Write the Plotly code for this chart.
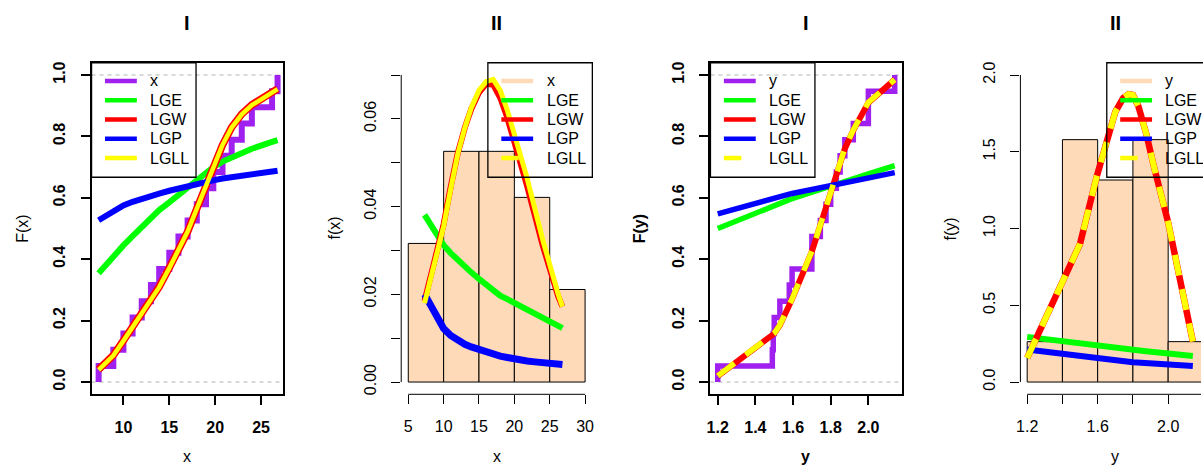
import plotly.graph_objects as go

W, H = 1203, 468
FONT = "Liberation Sans, Arial, Helvetica, sans-serif"
FS = 16

# ---------------- data: sample x ----------------
x_obs = [7.3, 8.9, 10.0, 11.0, 12.0, 13.0, 13.9, 15.0, 16.0, 17.0, 18.0, 19.0,
         19.8, 20.8, 21.8, 22.9, 24.0, 26.2, 26.8]
x_cdf_lge = [0.354, 0.41, 0.445, 0.475, 0.505, 0.535, 0.56, 0.585, 0.61, 0.635, 0.66,
             0.685, 0.70, 0.718, 0.732, 0.747, 0.76, 0.782, 0.788]
x_cdf_lgw = [0.041, 0.087, 0.135, 0.18, 0.222, 0.266, 0.31, 0.372, 0.43, 0.49, 0.565,
             0.64, 0.70, 0.772, 0.83, 0.873, 0.903, 0.945, 0.955]
x_cdf_lgp = [0.527, 0.557, 0.575, 0.587, 0.598, 0.607, 0.614, 0.623, 0.631, 0.638, 0.645,
             0.652, 0.657, 0.663, 0.668, 0.673, 0.678, 0.686, 0.688]
x_cdf_lgll = [0.040, 0.086, 0.134, 0.179, 0.221, 0.265, 0.309, 0.371, 0.43, 0.49, 0.565,
              0.64, 0.70, 0.772, 0.829, 0.872, 0.902, 0.944, 0.954]
x_pdf_lge = [0.0381, 0.0340, 0.0312, 0.0294, 0.0278, 0.0263, 0.0250, 0.0235, 0.0221, 0.0208,
             0.0197, 0.0189, 0.0182, 0.0173, 0.0164, 0.0153, 0.0144, 0.0128, 0.0123]
x_pdf_lgw = [0.0185, 0.0285, 0.0360, 0.0445, 0.0522, 0.0580, 0.0622, 0.0660, 0.0680, 0.0678,
             0.0648, 0.0603, 0.0560, 0.0507, 0.0447, 0.0380, 0.0312, 0.0195, 0.0172]
x_pdf_lgp = [0.0200, 0.0150, 0.0122, 0.0106, 0.0095, 0.0086, 0.0080, 0.0074, 0.0068, 0.0063,
             0.0059, 0.0056, 0.0053, 0.0050, 0.0048, 0.0046, 0.0044, 0.0041, 0.0040]
x_pdf_lgll = [0.0180, 0.0280, 0.0355, 0.0440, 0.0520, 0.0580, 0.0625, 0.0665, 0.0685, 0.0690,
              0.0665, 0.0620, 0.0578, 0.0525, 0.0465, 0.0395, 0.0325, 0.0200, 0.0172]
x_bin_edges = [5, 10, 15, 20, 25, 30]
x_density = [0.0316, 0.0526, 0.0526, 0.0421, 0.0211]

# ---------------- data: sample y ----------------
y_obs = [1.20, 1.49, 1.495, 1.50, 1.53, 1.58, 1.595, 1.70, 1.70, 1.745, 1.775, 1.80,
         1.83, 1.85, 1.875, 1.92, 2.00, 2.00, 2.14]
y_cdf_lge = [0.500, 0.575, 0.576, 0.577, 0.583, 0.594, 0.597, 0.619, 0.619, 0.629, 0.635,
             0.640, 0.646, 0.650, 0.654, 0.663, 0.678, 0.678, 0.705]
y_cdf_lgw = [0.019, 0.152, 0.155, 0.158, 0.185, 0.245, 0.27, 0.425, 0.425, 0.51, 0.565,
             0.615, 0.677, 0.715, 0.76, 0.82, 0.91, 0.91, 0.985]
y_cdf_lgp = [0.548, 0.600, 0.601, 0.602, 0.606, 0.612, 0.614, 0.627, 0.627, 0.633, 0.637,
             0.640, 0.644, 0.646, 0.649, 0.655, 0.664, 0.664, 0.682]
y_cdf_lgll = [0.020, 0.153, 0.156, 0.159, 0.186, 0.246, 0.271, 0.426, 0.426, 0.511, 0.566,
              0.616, 0.678, 0.716, 0.761, 0.821, 0.911, 0.911, 0.985]
y_pdf_lge = [0.294, 0.250, 0.249, 0.248, 0.244, 0.238, 0.236, 0.222, 0.222, 0.217, 0.213,
             0.210, 0.206, 0.204, 0.201, 0.196, 0.187, 0.187, 0.169]
y_pdf_lgw = [0.157, 0.87, 0.885, 0.90, 1.04, 1.27, 1.34, 1.76, 1.76, 1.85, 1.875,
             1.87, 1.80, 1.72, 1.62, 1.40, 1.04, 1.04, 0.264]
y_pdf_lgp = [0.212, 0.167, 0.166, 0.165, 0.161, 0.154, 0.152, 0.140, 0.140, 0.135, 0.132,
             0.129, 0.126, 0.124, 0.122, 0.118, 0.112, 0.112, 0.104]
y_pdf_lgll = [0.157, 0.87, 0.885, 0.90, 1.04, 1.27, 1.34, 1.76, 1.76, 1.85, 1.875,
              1.87, 1.80, 1.72, 1.62, 1.40, 1.04, 1.04, 0.264]
y_bin_edges = [1.2, 1.4, 1.6, 1.8, 2.0, 2.2]
y_density = [0.263, 1.579, 1.316, 1.579, 0.263]

# tick labels
p1_xticks = [10, 15, 20, 25]
cdf_yticks = [0, 0.2, 0.4, 0.6, 0.8, 1.0]
cdf_ytext = ["0.0", "0.2", "0.4", "0.6", "0.8", "1.0"]
p2_xticks = [5, 10, 15, 20, 25, 30]
p2_yticks = [0, 0.01, 0.02, 0.03, 0.04, 0.05, 0.06, 0.07]
p2_ytext = ["0.00", "", "0.02", "", "0.04", "", "0.06", ""]
p3_xticks = [1.2, 1.4, 1.6, 1.8, 2.0]
p3_xtext = ["1.2", "1.4", "1.6", "1.8", "2.0"]
p4_xticks = [1.2, 1.4, 1.6, 1.8, 2.0, 2.2]
p4_xtext = ["1.2", "", "1.6", "", "2.0", ""]
p4_yticks = [0, 0.5, 1.0, 1.5, 2.0]
p4_ytext = ["0.0", "0.5", "1.0", "1.5", "2.0"]

PURPLE, GREEN, RED, BLUE, YELLOW = "#A020F0", "#00FF00", "#FF0000", "#0000FF", "#FFFF00"
PEACH = "#FFDAB9"
DASH = "21px,14px"

fig = go.Figure()


def ecdf_xy(vals):
    n = len(vals)
    xs = [vals[0]] + list(vals)
    ys = [0.0] + [(i + 1) / n for i in range(n)]
    return xs, ys


def curve(xv, yv, color, width, ax, dash=None):
    fig.add_trace(go.Scatter(x=xv, y=yv, mode="lines",
                             line=dict(color=color, width=width, dash=dash),
                             xaxis=ax[0], yaxis=ax[1], hoverinfo="skip"))


def bars(edges, dens, ax):
    centers = [(a + b) / 2 for a, b in zip(edges[:-1], edges[1:])]
    widths = [b - a for a, b in zip(edges[:-1], edges[1:])]
    fig.add_trace(go.Bar(x=centers, y=dens, width=widths,
                         marker=dict(color=PEACH, line=dict(color="black", width=1)),
                         xaxis=ax[0], yaxis=ax[1], hoverinfo="skip"))


# panel 1
ex, ey = ecdf_xy(x_obs)
fig.add_trace(go.Scatter(x=ex, y=ey, mode="lines", line=dict(color=PURPLE, width=6, shape="hv"),
                         xaxis="x", yaxis="y", hoverinfo="skip"))
curve(x_obs, x_cdf_lge, GREEN, 6, ("x", "y"))
curve(x_obs, x_cdf_lgw, RED, 7.5, ("x", "y"))
curve(x_obs, x_cdf_lgp, BLUE, 6, ("x", "y"))
curve(x_obs, x_cdf_lgll, YELLOW, 4.5, ("x", "y"))

# panel 2
bars(x_bin_edges, x_density, ("x2", "y2"))
curve(x_obs, x_pdf_lge, GREEN, 6, ("x2", "y2"))
curve(x_obs, x_pdf_lgw, RED, 6, ("x2", "y2"))
curve(x_obs, x_pdf_lgp, BLUE, 7, ("x2", "y2"))
curve(x_obs, x_pdf_lgll, YELLOW, 5, ("x2", "y2"))

# panel 3
ex, ey = ecdf_xy(y_obs)
fig.add_trace(go.Scatter(x=ex, y=ey, mode="lines", line=dict(color=PURPLE, width=5.5, shape="hv"),
                         xaxis="x3", yaxis="y3", hoverinfo="skip"))
curve(y_obs, y_cdf_lge, GREEN, 5.5, ("x3", "y3"))
curve(y_obs, y_cdf_lgw, RED, 6, ("x3", "y3"))
curve(y_obs, y_cdf_lgp, BLUE, 5.5, ("x3", "y3"))
curve(y_obs, y_cdf_lgll, YELLOW, 5.5, ("x3", "y3"), dash=DASH)

# panel 4
bars(y_bin_edges, y_density, ("x4", "y4"))
curve(y_obs, y_pdf_lge, GREEN, 6, ("x4", "y4"))
curve(y_obs, y_pdf_lgw, RED, 6.5, ("x4", "y4"))
curve(y_obs, y_pdf_lgp, BLUE, 6, ("x4", "y4"))
curve(y_obs, y_pdf_lgll, YELLOW, 6, ("x4", "y4"), dash=DASH)

YDOM = [73 / H, 406 / H]


def tfont(bold):
    d = dict(family=FONT, size=FS, color="black")
    if bold:
        d["weight"] = "bold"
    return d


def xax(x0, x1, rng, anchor, tv, tt, bold, box):
    return dict(domain=[x0 / W, x1 / W], range=rng, anchor=anchor, tickmode="array",
                tickvals=tv, ticktext=tt, ticks="outside", ticklen=9,
                tickwidth=2 if box else 1, tickcolor="black",
                showline=box, mirror=box, linewidth=2, linecolor="black",
                showgrid=False, zeroline=False, tickfont=tfont(bold),
                ticklabelstandoff=8)


def yax(rng, anchor, tv, tt, bold, box):
    return dict(domain=YDOM, range=rng, anchor=anchor, tickmode="array",
                tickvals=tv, ticktext=tt, ticks="outside", ticklen=9,
                tickwidth=2 if box else 1, tickcolor="black", tickangle=-90,
                showline=box, mirror=box, linewidth=2, linecolor="black",
                showgrid=False, zeroline=False, tickfont=tfont(bold),
                ticklabelstandoff=9)


fig.update_layout(
    width=W, height=H, margin=dict(l=0, r=0, t=0, b=0),
    paper_bgcolor="white", plot_bgcolor="white", showlegend=False,
    xaxis=xax(88, 280, [6.53, 27.35], "y", p1_xticks, [str(v) for v in p1_xticks], True, True),
    yaxis=yax([-0.04, 1.04], "x", cdf_yticks, cdf_ytext, True, True),
    xaxis2=xax(399.2, 591.1, [4, 31], "y2", p2_xticks, [str(v) for v in p2_xticks], False, False),
    yaxis2=yax([-0.0028, 0.0728], "x2", p2_yticks, p2_ytext, False, False),
    xaxis3=xax(710, 902, [1.1614, 2.176], "y3", p3_xticks, p3_xtext, True, True),
    yaxis3=yax([-0.04, 1.04], "x3", cdf_yticks, cdf_ytext, True, True),
    xaxis4=xax(1021.5, W, [1.1616, 2.1863], "y4", p4_xticks, p4_xtext, False, False),
    yaxis4=yax([-0.08, 2.08], "x4", p4_yticks, p4_ytext, False, False),
)

# gray dashed reference lines (ecdf panels)
for xa, ya in (("x", "y"), ("x3", "y3")):
    for lvl in (0, 1):
        fig.add_shape(type="line", xref=xa + " domain", yref=ya, x0=0, x1=1, y0=lvl, y1=lvl,
                      line=dict(color="#B3B3B3", width=1, dash="4px,4px"), layer="below")

# R-style detached axis lines for the histogram panels
for xa, ya, xe, ytop in (("x2", "y2", x_bin_edges, 0.07), ("x4", "y4", y_bin_edges, 2.0)):
    fig.add_shape(type="line", xref=xa, yref=ya + " domain", x0=xe[0], x1=xe[-1], y0=0, y1=0,
                  line=dict(color="black", width=1))
    fig.add_shape(type="line", xref=xa + " domain", yref=ya, x0=0, x1=0, y0=0, y1=ytop,
                  line=dict(color="black", width=1))


def legend(left, labels, colors, dashed_last):
    top, bottom, width = 62, 177, 105
    fig.add_shape(type="rect", xref="paper", yref="paper", x0=left / W, x1=(left + width) / W,
                  y0=1 - bottom / H, y1=1 - top / H, line=dict(color="black", width=1.3),
                  fillcolor="rgba(0,0,0,0)", layer="above")
    rows = [80.3, 99.7, 119.0, 138.3, 157.7]
    for i, (lab, col) in enumerate(zip(labels, colors)):
        py = rows[i]
        xe = left + (31 if (dashed_last and i == 4) else 45.5)
        fig.add_shape(type="line", xref="paper", yref="paper", x0=(left + 13.5) / W, x1=xe / W,
                      y0=1 - py / H, y1=1 - py / H, line=dict(color=col, width=4.5), layer="above")
        fig.add_annotation(xref="paper", yref="paper", x=(left + 57) / W, y=1 - py / H, text=lab,
                           showarrow=False, xanchor="left", yanchor="middle",
                           font=dict(family=FONT, size=FS, color="black"))


legend(88, ["x", "LGE", "LGW", "LGP", "LGLL"], [PURPLE, GREEN, RED, BLUE, YELLOW], False)
legend(486.3, ["x", "LGE", "LGW", "LGP", "LGLL"], [PEACH, GREEN, RED, BLUE, YELLOW], True)
legend(710, ["y", "LGE", "LGW", "LGP", "LGLL"], [PURPLE, GREEN, RED, BLUE, YELLOW], True)
legend(1108.3, ["y", "LGE", "LGW", "LGP", "LGLL"], [PEACH, GREEN, RED, BLUE, YELLOW], True)

# titles and axis titles
panels = [  # (centre x of plot, y-title x, title, xlab, ylab, bold labels)
    (184, 18.3, "I", "x", "F(x)", False),
    (495, 331.7, "II", "x", "f(x)", False),
    (806, 639, "I", "y", "F(y)", True),
    (1117, 951.7, "II", "y", "f(y)", False),
]
for cx, yx, title, xl, yl, bold in panels:
    fig.add_annotation(xref="paper", yref="paper", x=cx / W, y=1 - 22 / H, text="<b>%s</b>" % title,
                       showarrow=False, xanchor="center", yanchor="middle",
                       font=dict(family=FONT, size=20, color="black"))
    lf = dict(family=FONT, size=FS, color="black")
    if bold:
        lf["weight"] = "bold"
    fig.add_annotation(xref="paper", yref="paper", x=cx / W, y=0, text=xl,
                       showarrow=False, xanchor="center", yanchor="bottom", font=lf)
    fig.add_annotation(xref="paper", yref="paper", x=yx / W, y=1 - 228.5 / H, text=yl,
                       showarrow=False, xanchor="center", yanchor="middle", textangle=-90, font=lf)

fig.write_html("out.html")
